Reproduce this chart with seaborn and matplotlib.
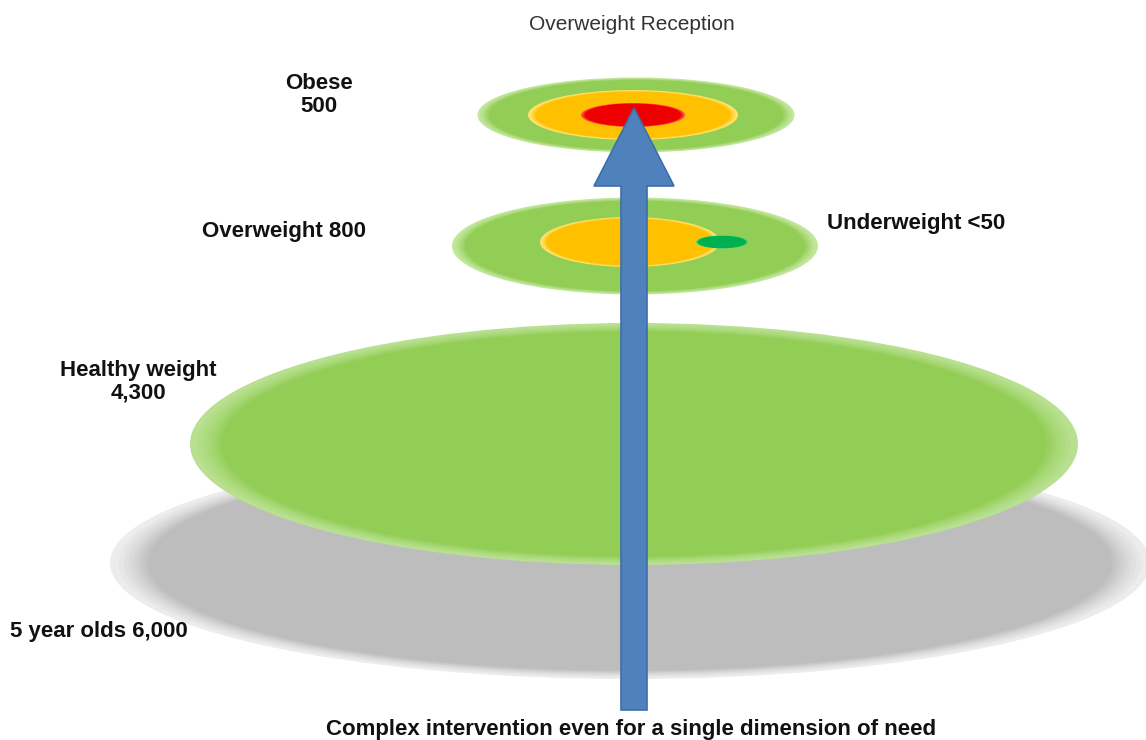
import numpy as np
import matplotlib
matplotlib.use("Agg")
import matplotlib.pyplot as plt
from matplotlib.patches import Ellipse, FancyArrow
from matplotlib.colors import to_rgb
import seaborn as sns

# data
title = "Overweight Reception"
groups = ["5 year olds", "Healthy weight", "Overweight", "Obese", "Underweight"]
counts = ["6,000", "4,300", "800", "500", "<50"]
footer = "Complex intervention even for a single dimension of need"

sns.set_theme(style="white")
plt.rcParams['font.family'] = ['Liberation Sans', 'DejaVu Sans']

fig = plt.figure(figsize=(11.46, 7.40), dpi=100)
ax = fig.add_axes([0, 0, 1, 1])
ax.set_xlim(0, 1146)
ax.set_ylim(740, 0)
ax.axis("off")


def shaded_ellipse(cx, cy, w, h, edge, centre, z, layers=14):
    # fake the soft 3D look with stacked ellipses
    e = np.array(to_rgb(edge))
    c = np.array(to_rgb(centre))
    for i in range(layers):
        t = i / (layers - 1)
        s = 1 - 0.10 * t ** 0.7
        col = e + (c - e) * min(1, t * 1.6)
        ax.add_patch(Ellipse((cx, cy), w * s, h * s, facecolor=col,
                             edgecolor="none", zorder=z + i * 0.001))


# base population
shaded_ellipse(630, 563, 1040, 232, "#ececec", "#bdbdbd", 1)
# healthy weight
shaded_ellipse(634, 444, 888, 242, "#b8e090", "#92cd55", 2)
# overweight group
shaded_ellipse(635, 246, 366, 97, "#c2e79c", "#92cd55", 3)
shaded_ellipse(630, 242, 180, 50, "#ffe36a", "#ffc000", 4, layers=8)
shaded_ellipse(722, 242, 52, 13, "#3fe08a", "#00b050", 5, layers=5)
# obese group
shaded_ellipse(636, 115, 317, 75, "#c2e79c", "#92cd55", 3)
shaded_ellipse(633, 115, 210, 50, "#ffe36a", "#ffc000", 4, layers=8)
shaded_ellipse(633, 115, 104, 24, "#ff4a4a", "#ee0000", 5, layers=6)

arrow = FancyArrow(634, 710, 0, -602, width=26, head_width=80, head_length=78,
                   length_includes_head=True, facecolor="#4f81bd",
                   edgecolor="#3d6ea8", linewidth=1.2, zorder=10)
ax.add_patch(arrow)

lab = dict(fontsize=16, fontweight="bold", color="#111111", zorder=12)
ax.text(632, 25, title, ha="center", va="center", fontsize=15, color="#333333")
ax.text(319, 95, f"{groups[3]}\n{counts[3]}", ha="center", va="center",
        linespacing=1.1, **lab)
ax.text(202, 232, f"{groups[2]} {counts[2]}", ha="left", va="center", **lab)
ax.text(827, 223, f"{groups[4]} {counts[4]}", ha="left", va="center", **lab)
ax.text(138, 382, f"{groups[1]}\n{counts[1]}", ha="center", va="center",
        linespacing=1.1, **lab)
ax.text(10, 632, f"{groups[0]} {counts[0]}", ha="left", va="center", **lab)
ax.text(631, 729, footer, ha="center", va="center", fontsize=16,
        fontweight="bold", color="#111111")

fig.savefig("out.png", dpi=100)
